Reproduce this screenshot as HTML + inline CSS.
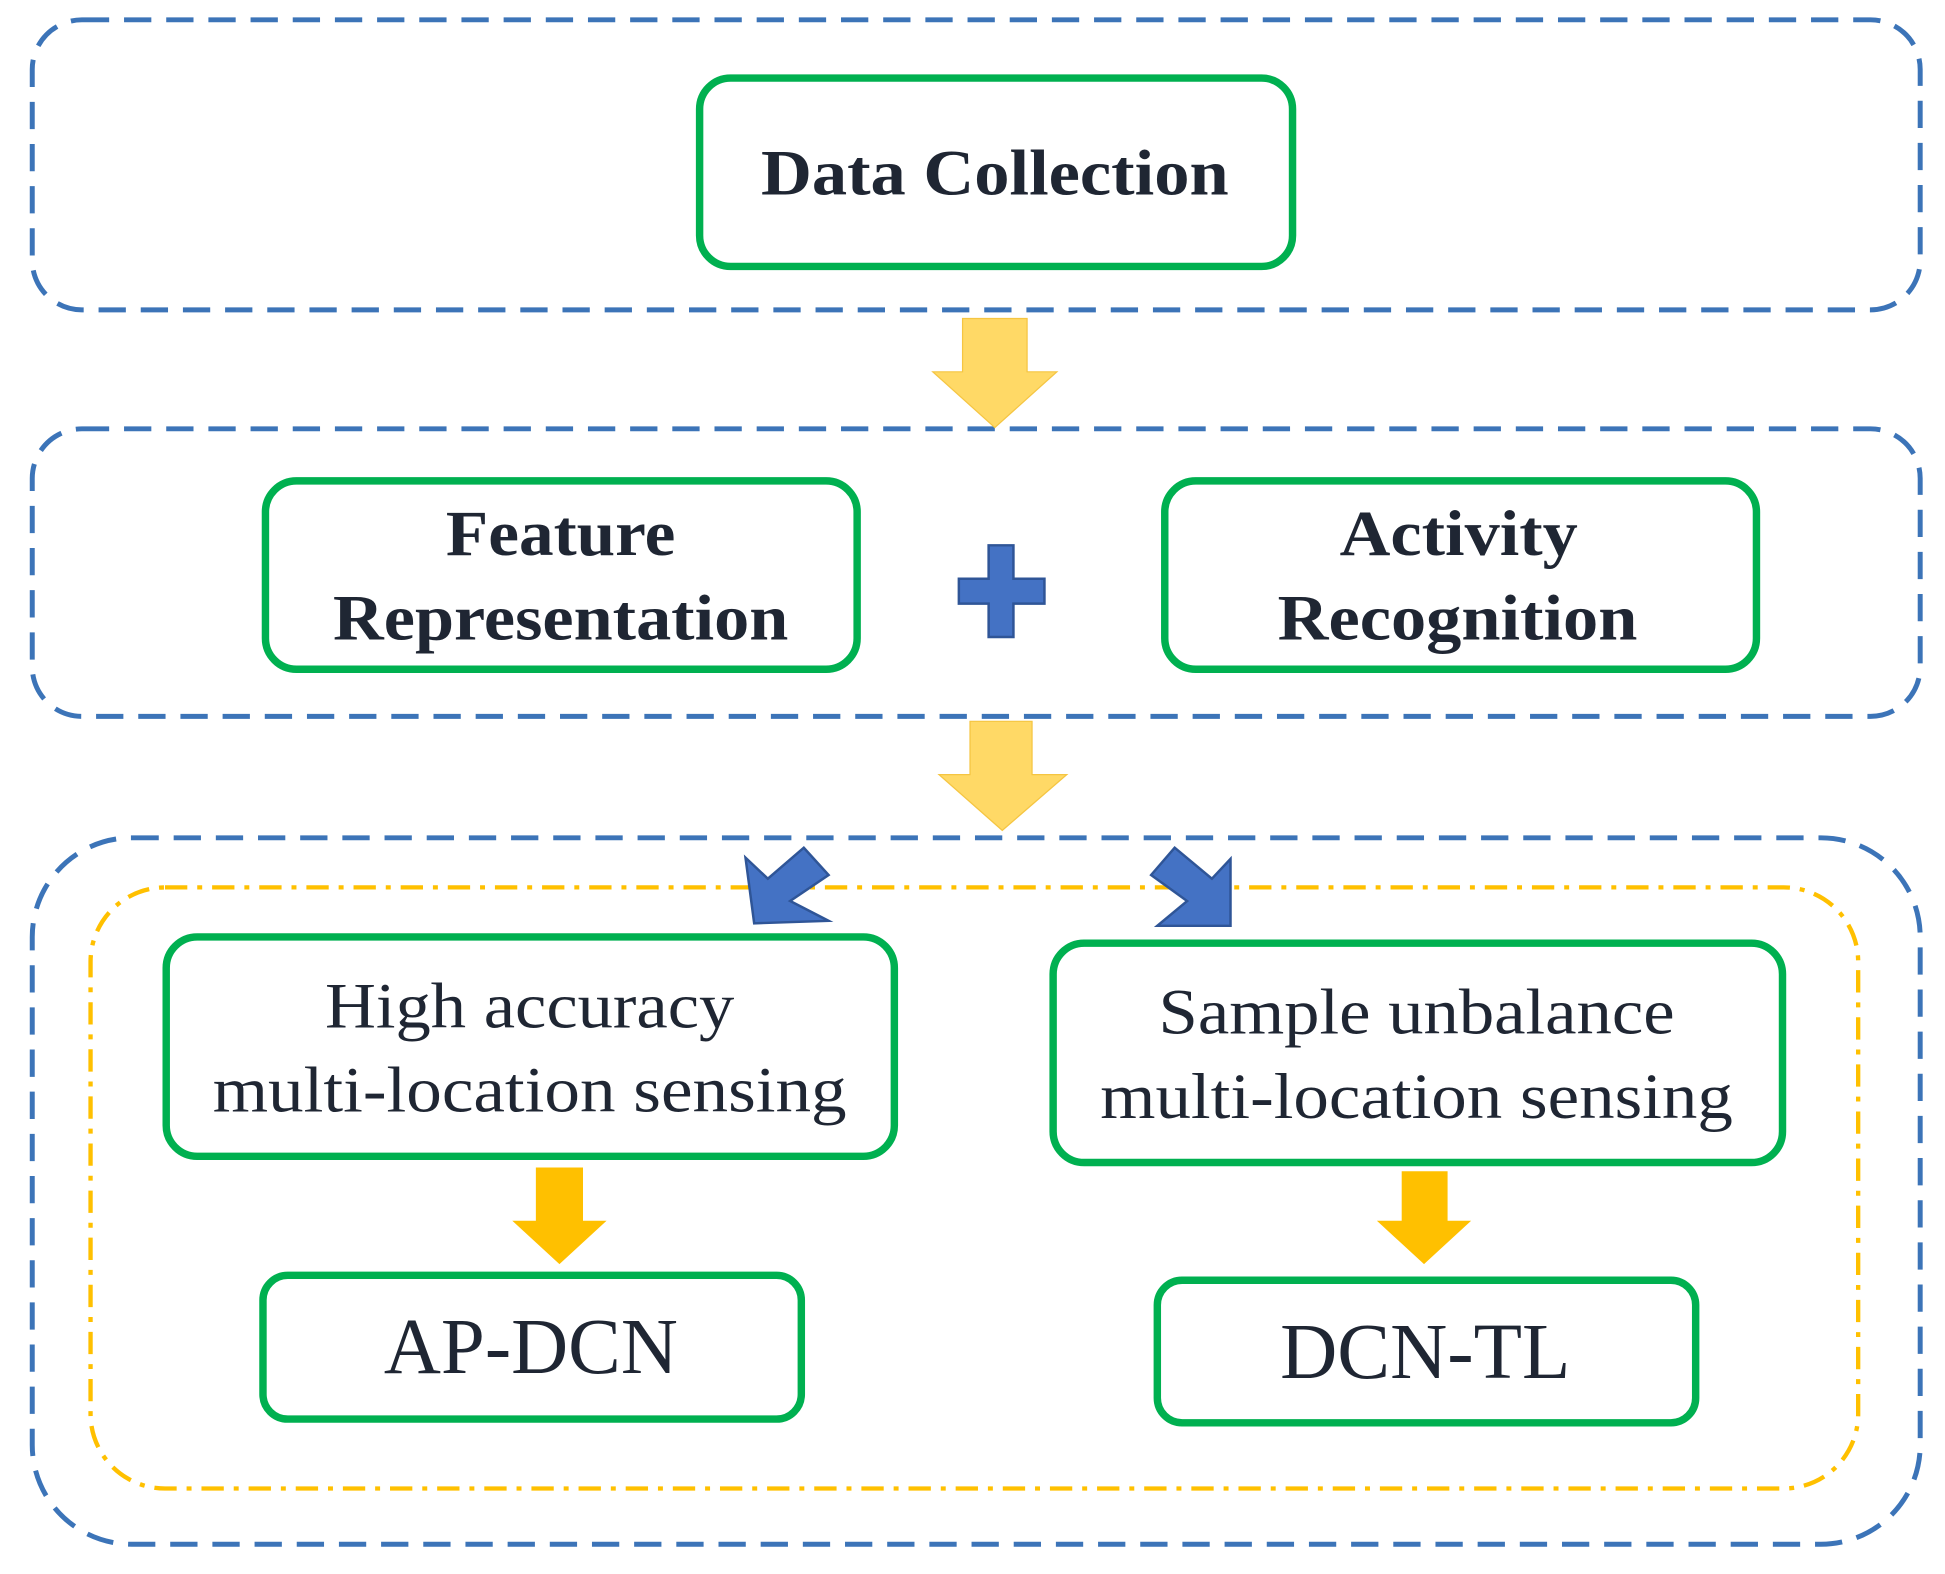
<!DOCTYPE html>
<html><head><meta charset="utf-8"><style>html,body{margin:0;padding:0;background:#fff}svg{display:block}</style></head>
<body>
<svg width="1945" height="1574" viewBox="0 0 1568 1270" preserveAspectRatio="none" xmlns="http://www.w3.org/2000/svg">
<g fill="none" stroke="#3c74b8" stroke-width="4" stroke-dasharray="22,12">
<rect x="26" y="16" width="1522" height="234" rx="40"/>
<rect x="26" y="346" width="1522" height="232" rx="40"/>
<rect x="26" y="676" width="1522" height="570" rx="80"/>
</g>
<rect x="73" y="716" width="1425" height="485" rx="60" fill="none" stroke="#ffc000" stroke-width="3.5" stroke-dasharray="18,8,4,8"/>
<g fill="none" stroke="#00b050" stroke-width="6">
<rect x="564" y="63" width="478" height="152" rx="25"/>
<rect x="214" y="388" width="477" height="152" rx="25"/>
<rect x="939" y="388" width="477" height="152" rx="25"/>
<rect x="134" y="756" width="587" height="177" rx="25"/>
<rect x="849" y="761" width="588" height="177" rx="25"/>
<rect x="212" y="1029" width="434" height="116" rx="20"/>
<rect x="933" y="1033" width="434" height="115" rx="20"/>
</g>
<g fill="#ffd966" stroke="#f5c542" stroke-width="1">
<polygon points="776,257 828,257 828,300 852,300 802,345 752,300 776,300"/>
<polygon points="782,582 832,582 832,625 860,625 808,670 757,625 782,625"/>
</g>
<g fill="#ffc000">
<polygon points="432,942 470,942 470,985 489,985 451,1020 413,985 432,985"/>
<polygon points="1130,945 1167,945 1167,985 1186,985 1148,1020 1110,985 1130,985"/>
</g>
<g fill="#4472c4" stroke="#2f5597" stroke-width="2">
<polygon points="797,440 817,440 817,467 842,467 842,487 817,487 817,514 797,514 797,487 773,487 773,467 797,467"/>
<polygon points="648,684 668,706 637,727 668,743 608,745 601,692 619,709"/>
<polygon points="947,684 928,706 957,727 933,747 992,747 992,693 977,709"/>
</g>
<g font-family="'Liberation Serif',serif" fill="#1f2633" text-anchor="middle" lengthAdjust="spacingAndGlyphs">
<text x="802" y="157" font-size="52" font-weight="bold" textLength="377" lengthAdjust="spacingAndGlyphs">Data Collection</text>
<text x="452" y="448" font-size="52" font-weight="bold" textLength="185" lengthAdjust="spacingAndGlyphs">Feature</text>
<text x="452" y="516" font-size="52" font-weight="bold" textLength="367" lengthAdjust="spacingAndGlyphs">Representation</text>
<text x="1176" y="448" font-size="52" font-weight="bold" textLength="192" lengthAdjust="spacingAndGlyphs">Activity</text>
<text x="1175" y="516" font-size="52" font-weight="bold" textLength="290" lengthAdjust="spacingAndGlyphs">Recognition</text>
<text x="427" y="829" font-size="52" textLength="330" lengthAdjust="spacingAndGlyphs">High accuracy</text>
<text x="427" y="897" font-size="52" textLength="511" lengthAdjust="spacingAndGlyphs">multi-location sensing</text>
<text x="1142" y="834" font-size="52" textLength="416" lengthAdjust="spacingAndGlyphs">Sample unbalance</text>
<text x="1142" y="902" font-size="52" textLength="510" lengthAdjust="spacingAndGlyphs">multi-location sensing</text>
<text x="428" y="1108" font-size="64" textLength="237" lengthAdjust="spacingAndGlyphs">AP-DCN</text>
<text x="1149" y="1112" font-size="64" textLength="234" lengthAdjust="spacingAndGlyphs">DCN-TL</text>
</g>
</svg>
</body></html>
